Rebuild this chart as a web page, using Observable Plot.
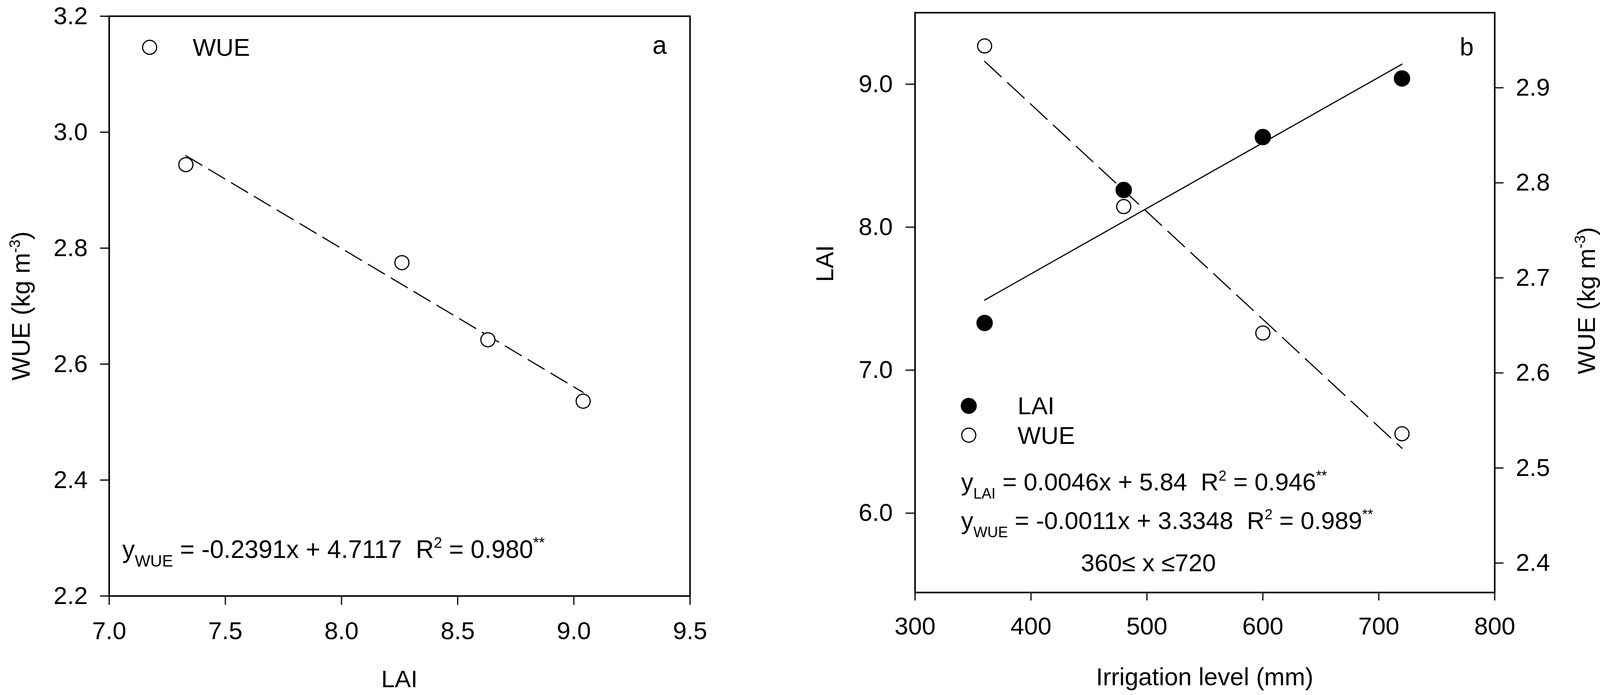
<!DOCTYPE html>
<html>
<head>
<meta charset="utf-8">
<script src="https://cdn.jsdelivr.net/npm/d3@7"></script>
<script src="https://cdn.jsdelivr.net/npm/@observablehq/plot@0.6"></script>
<style>
  html, body { margin: 0; padding: 0; background: white; }
  #root { position: relative; width: 4114px; height: 1780px; overflow: hidden; background: white; }
  #root svg { position: absolute; top: 0; }
</style>
</head>
<body>
<div id="root"></div>
<script>
// ---------- data ----------
const irrigation = [360, 480, 600, 720];        // mm
const lai = [7.33, 8.26, 8.63, 9.04];           // LAI
const wue = [2.944, 2.775, 2.642, 2.536];       // kg m-3

const aXTicks = [7.0, 7.5, 8.0, 8.5, 9.0, 9.5];
const aYTicks = [2.2, 2.4, 2.6, 2.8, 3.0, 3.2];
const bXTicks = [300, 400, 500, 600, 700, 800];
const bLaiTicks = [6.0, 7.0, 8.0, 9.0];
const bWueTicks = [2.4, 2.5, 2.6, 2.7, 2.8, 2.9];

const rows = irrigation.map((d, i) => ({irrigation: d, lai: lai[i], wue: wue[i]}));

// ---------- helpers ----------
const NS = "http://www.w3.org/2000/svg";
const FONT = "'Liberation Sans', Arial, Helvetica, sans-serif";
const fmt1 = d3.format(".1f");

function rich(parts, {px, py, rotate = 0, anchor = "start", size = 63, subSize = 40, supSize = 38, subShift = 21, supShift = 25}) {
  return (index, scales, values, dims) => {
    const t = document.createElementNS(NS, "text");
    const x = px(scales, dims), y = py(scales, dims);
    t.setAttribute("transform", `translate(${x},${y}) rotate(${rotate})`);
    t.setAttribute("text-anchor", anchor);
    t.setAttribute("font-size", size);
    t.setAttribute("font-family", FONT);
    t.setAttribute("fill", "black");
    let shift = 0;
    for (const [s, kind] of parts) {
      const ts = document.createElementNS(NS, "tspan");
      const target = kind === "sub" ? subShift : kind === "sup" ? -supShift : 0;
      if (target - shift !== 0) ts.setAttribute("dy", target - shift);
      shift = target;
      if (kind) ts.setAttribute("font-size", kind === "sub" ? subSize : supSize);
      ts.textContent = s;
      t.appendChild(ts);
    }
    return t;
  };
}

function legendDot({px, py, r, fill}) {
  return (index, scales) => {
    const c = document.createElementNS(NS, "circle");
    c.setAttribute("cx", scales.x(px));
    c.setAttribute("cy", scales.y(py));
    c.setAttribute("r", r);
    c.setAttribute("fill", fill);
    c.setAttribute("stroke", "black");
    c.setAttribute("stroke-width", 3);
    return c;
  };
}

const baseStyle = {fontFamily: FONT, fontSize: "63px", color: "black", background: "transparent", maxWidth: "none", overflow: "visible"};
const midX = (s, d) => (d.marginLeft + d.width - d.marginRight) / 2;

// ---------- panel a ----------
const plotA = Plot.plot({
  width: 2000, height: 1780,
  marginLeft: 279, marginRight: 234, marginTop: 41, marginBottom: 254,
  x: {domain: [7.0, 9.5]},
  y: {domain: [2.2, 3.2]},
  style: baseStyle,
  marks: [
    Plot.frame({stroke: "black", strokeWidth: 4}),
    Plot.axisX({ticks: aXTicks, tickFormat: fmt1, tickSize: 23, tickPadding: 43, strokeWidth: 3, fontSize: 63, label: null}),
    Plot.axisY({ticks: aYTicks, tickFormat: fmt1, tickSize: 23, tickPadding: 32, strokeWidth: 3, fontSize: 63, label: null}),
    Plot.linearRegressionY(rows, {x: "lai", y: "wue", ci: 0, stroke: "black", strokeWidth: 3, strokeDasharray: "48,20"}),
    Plot.dot(rows, {x: "lai", y: "wue", r: 18, stroke: "black", strokeWidth: 3, fill: "white"}),
    legendDot({px: 7.175, py: 3.146, r: 18, fill: "white"}),
    rich([["WUE"]], {px: s => s.x(7.36), py: s => s.y(3.131)}),
    rich([["a"]], {px: s => s.x(9.339), py: s => s.y(3.135), size: 66}),
    rich([["y"], ["WUE", "sub"], [" = -0.2391x + 4.7117\u00A0\u00A0R"], ["2", "sup"], [" = 0.980"], ["**", "sup"]],
      {px: s => s.x(7.057), py: s => s.y(2.2655), size: 64, subSize: 42, supSize: 38, subShift: 22, supShift: 26}),
    rich([["LAI"]], {px: midX, py: () => 1760, anchor: "middle", size: 62}),
    rich([["WUE (kg m"], ["-3", "sup"], [")"]],
      {px: () => 76, py: (s, d) => (d.marginTop + d.height - d.marginBottom) / 2, rotate: -90, anchor: "middle", size: 64})
  ]
});
plotA.style.left = "0px";

// ---------- panel b (LAI, left axis) ----------
const bDims = {width: 2114, height: 1780, marginLeft: 342, marginRight: 288, marginTop: 32, marginBottom: 263};

const plotB1 = Plot.plot({
  ...bDims,
  x: {domain: [300, 800]},
  y: {domain: [5.445, 9.5]},
  style: baseStyle,
  marks: [
    Plot.frame({stroke: "black", strokeWidth: 4}),
    Plot.axisX({ticks: bXTicks, tickSize: 21, tickPadding: 42, strokeWidth: 3, fontSize: 63, label: null}),
    Plot.axisY({ticks: bLaiTicks, tickFormat: fmt1, tickSize: 24, tickPadding: 33, strokeWidth: 3, fontSize: 63, label: null}),
    Plot.linearRegressionY(rows, {x: "irrigation", y: "lai", ci: 0, stroke: "black", strokeWidth: 3}),
    Plot.dot(rows, {x: "irrigation", y: "lai", r: 20, fill: "black", stroke: "black", strokeWidth: 2}),
    rich([["b"]], {px: s => s.x(770), py: s => s.y(9.20), size: 64}),
    legendDot({px: 346.5, py: 6.749, r: 19, fill: "black"}),
    rich([["LAI"]], {px: s => s.x(388.6), py: s => s.y(6.689)}),
    legendDot({px: 346.5, py: 6.544, r: 18, fill: "white"}),
    rich([["WUE"]], {px: s => s.x(388.6), py: s => s.y(6.484)}),
    rich([["y"], ["LAI", "sub"], [" = 0.0046x + 5.84\u00A0\u00A0R"], ["2", "sup"], [" = 0.946"], ["**", "sup"]],
      {px: s => s.x(339.8), py: s => s.y(6.158), size: 63, subSize: 38, supSize: 36}),
    rich([["y"], ["WUE", "sub"], [" = -0.0011x + 3.3348\u00A0\u00A0R"], ["2", "sup"], [" = 0.989"], ["**", "sup"]],
      {px: s => s.x(339.8), py: s => s.y(5.888), size: 63, subSize: 38, supSize: 36}),
    rich([["360\u2264 x \u2264720"]], {px: s => s.x(443.2), py: s => s.y(5.593)}),
    rich([["Irrigation level (mm)"]], {px: midX, py: () => 1755, anchor: "middle", size: 63}),
    rich([["LAI"]], {px: () => 133, py: () => 675, rotate: -90, anchor: "middle", size: 63})
  ]
});
plotB1.style.left = "2000px";

// ---------- panel b (WUE, right axis) ----------
const plotB2 = Plot.plot({
  ...bDims,
  x: {domain: [300, 800], axis: null},
  y: {domain: [2.369, 2.979]},
  style: baseStyle,
  marks: [
    Plot.axisY({anchor: "right", ticks: bWueTicks, tickFormat: fmt1, tickSize: 22, tickPadding: 32, strokeWidth: 3, fontSize: 63, label: null}),
    Plot.linearRegressionY(rows, {x: "irrigation", y: "wue", ci: 0, stroke: "black", strokeWidth: 3, strokeDasharray: "58,22"}),
    Plot.dot(rows, {x: "irrigation", y: "wue", r: 18, stroke: "black", strokeWidth: 3, fill: "white"}),
    rich([["WUE (kg m"], ["-3", "sup"], [")"]],
      {px: () => 2083, py: () => 770, rotate: -90, anchor: "middle", size: 63})
  ]
});
plotB2.style.left = "2000px";

const root = document.getElementById("root");
root.appendChild(plotA);
root.appendChild(plotB1);
root.appendChild(plotB2);
</script>
</body>
</html>
